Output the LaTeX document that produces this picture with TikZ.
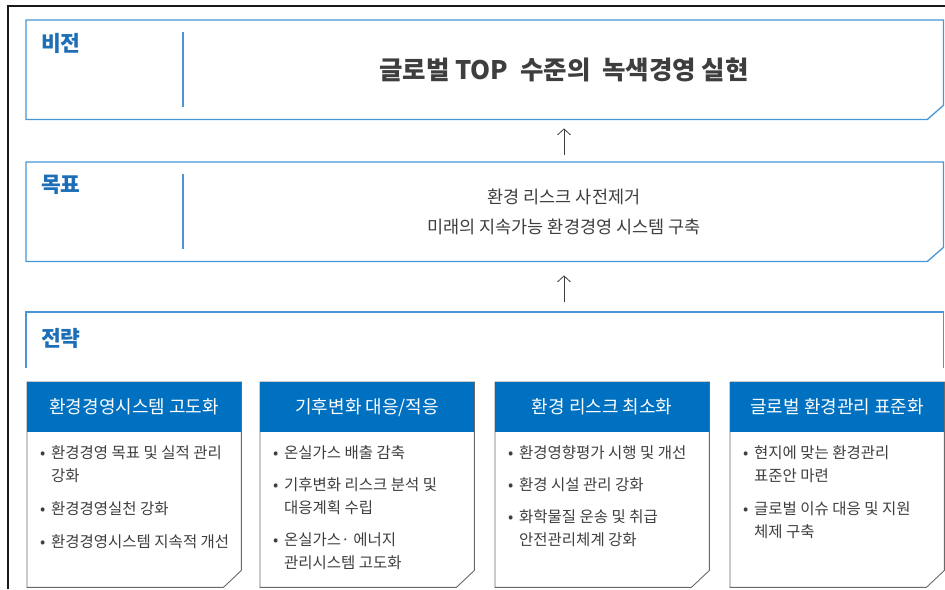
\documentclass[tikz,border=0pt]{standalone}
\usepackage{fontspec}
\setmainfont{Noto Sans CJK KR}
\usetikzlibrary{arrows.meta,positioning,calc}
\definecolor{framebk}{RGB}{25,25,25}
\definecolor{lineblue}{RGB}{72,150,214}
\definecolor{tagblue}{RGB}{28,110,182}
\definecolor{headblue}{RGB}{0,112,192}
\definecolor{textgray}{RGB}{62,62,62}
\definecolor{cardgray}{RGB}{105,105,105}
\newcommand{\dotitem}{\makebox[11pt][l]{•}}
\newcommand{\indentitem}{\hspace*{11pt}}

\begin{document}
\begin{tikzpicture}[x=1pt,y=-1pt,
  panel/.style={minimum width=917pt,minimum height=99pt,inner sep=0pt,anchor=north west},
  blueline/.style={draw=lineblue,line width=1.3pt},
  tag/.style={font=\fontsize{21.5}{24}\selectfont\bfseries,text=tagblue,anchor=west,inner sep=0pt},
  card/.style={minimum width=214pt,minimum height=205pt,inner sep=0pt,anchor=north west},
  cardline/.style={draw=cardgray,line width=0.9pt},
  headbox/.style={anchor=north,minimum width=214pt,minimum height=50pt,inner sep=0pt,
    fill=headblue,text=white,font=\fontsize{18}{20}\selectfont},
  bullets/.style={anchor=north west,align=left,inner sep=0pt,text=textgray,
    font=\fontsize{15.5}{23}\selectfont},
  upstep/.style={draw=textgray,line width=0.8pt,-{Straight Barb[length=6pt,width=13pt]}}]
  \useasboundingbox (0,0) rectangle (945,589);
  % outer frame
  \draw[framebk,line width=1.6pt] (8,589) -- (8,6) -- (945,6);

  % vision and goal
  \node[panel] (vision) at (26,20) {};
  \node[panel] (goal) at (26,162) {};
  \foreach \p in {vision,goal}{
    \draw[blueline] (\p.north west) -- (\p.north east) -- ([yshift=14pt]\p.south east)
      -- ([xshift=-16pt]\p.south east) -- (\p.south west) -- cycle;
    \draw[blueline] ([xshift=157pt,yshift=-12pt]\p.north west) -- ([xshift=157pt,yshift=12pt]\p.south west);
  }
  \node[tag] (visiontag) at ([xshift=15pt,yshift=-23pt]vision.north west) {비전};
  \node[tag] (goaltag) at ([xshift=15pt,yshift=-23pt]goal.north west) {목표};
  \node[font=\fontsize{25.5}{28}\selectfont\bfseries,text=textgray] (title) at (564,70)
    {글로벌 TOP~ 수준의~ 녹색경영 실현};
  \node[font=\fontsize{17.5}{30}\selectfont,text=textgray,align=center] (goaltext) at (564,212)
    {환경 리스크 사전제거\\미래의 지속가능 환경경영 시스템 구축};

  % strategy
  \node[panel,minimum height=56pt] (strategy) at (26,312) {};
  \draw[blueline] (strategy.south west) -- (strategy.north west) -- (strategy.north east) -- (strategy.south east);
  \node[tag] (strategytag) at ([xshift=15pt,yshift=-26pt]strategy.north west) {전략};

  \draw[upstep,shorten <=7pt,shorten >=9pt] (goal.north -| goaltext) -- (vision.south -| goaltext);
  \draw[upstep,shorten <=10pt,shorten >=14pt] (strategy.north -| goaltext) -- (goal.south -| goaltext);

  % cards
  \foreach \cx/\head/\body [count=\i] in {
    27/{환경경영시스템 고도화}/{\dotitem 환경경영 목표 및 실적 관리\\\indentitem 강화\\[10pt]\dotitem 환경경영실천 강화\\[10pt]\dotitem 환경경영시스템 지속적 개선},
    260/{기후변화 대응/적응}/{\dotitem 온실가스 배출 감축\\[9pt]\dotitem 기후변화 리스크 분석 및\\\indentitem 대응계획 수립\\[9pt]\dotitem 온실가스· 에너지\\\indentitem 관리시스템 고도화},
    495/{환경 리스크 최소화}/{\dotitem 환경영향평가 시행 및 개선\\[9pt]\dotitem 환경 시설 관리 강화\\[9pt]\dotitem 화학물질 운송 및 취급\\\indentitem 안전관리체계 강화},
    730/{글로벌 환경관리 표준화}/{\dotitem 현지에 맞는 환경관리\\\indentitem 표준안 마련\\[10pt]\dotitem 글로벌 이슈 대응 및 지원\\\indentitem 체제 구축}}{
    \node[card] (card\i) at (\cx,382) {};
    \draw[cardline] (card\i.north west) -- (card\i.north east) -- ([yshift=17pt]card\i.south east)
      -- ([xshift=-18pt]card\i.south east) -- (card\i.south west) -- cycle;
    \node[headbox] (head\i) at (card\i.north) {\head};
    \node[bullets] (body\i) at ([xshift=13pt,yshift=-63pt]card\i.north west) {\body};
  }
\end{tikzpicture}
\end{document}
